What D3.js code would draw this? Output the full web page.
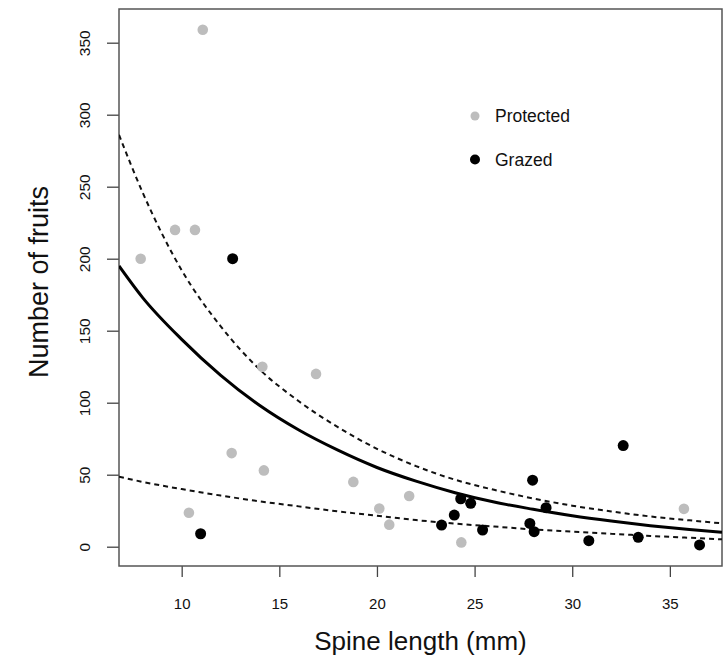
<!DOCTYPE html>
<html>
<head>
<meta charset="utf-8">
<script src="https://cdn.jsdelivr.net/npm/d3@7"></script>
<style>
  body { margin: 0; background: #fff; }
  svg text { font-family: "Liberation Sans", Arial, sans-serif; fill: #111; }
</style>
</head>
<body>
<div id="chart"></div>
<script>
// spine length (mm) and number of fruits
var protectedX = [7.9, 9.66, 10.68, 11.08, 10.37, 12.56, 14.13, 14.21, 16.88, 18.79, 20.12, 20.63, 21.65, 24.32, 35.72];
var protectedY = [200, 220, 220, 359, 23.6, 65, 125, 53, 120, 45, 26.5, 15.3, 35.2, 3, 26.3];
var grazedX = [10.97, 12.61, 23.31, 23.96, 24.29, 24.8, 25.41, 27.83, 27.97, 28.05, 28.66, 30.85, 32.61, 33.38, 36.52];
var grazedY = [9, 200, 15, 22, 33.3, 30.1, 11.6, 16.2, 46.2, 10.4, 27.1, 4.2, 70.2, 6.5, 1.2];

// fitted curve and its bounds, read at these x positions
var fitX     = [6.79, 8, 10, 12, 14, 16, 18, 20, 22, 24, 26, 28, 30, 32, 34, 36, 37.67];
var fitMid   = [195, 173, 144, 119, 98, 81, 67, 55, 45.5, 37.5, 31, 26, 21.5, 17.8, 14.6, 11.9, 10];
var fitUpper = [286, 246, 192, 153, 123, 101, 83, 68, 56, 46.5, 39.5, 33.5, 28.5, 24.5, 21, 18.3, 16.2];
var fitLower = [48.6, 45, 40, 35.5, 31.5, 28, 24.5, 21.5, 18.5, 16, 14, 12, 10.5, 9, 7.5, 6.2, 5.1];

var xTicks = [10, 15, 20, 25, 30, 35];
var yTicks = [0, 50, 100, 150, 200, 250, 300, 350];
var legendLabels = ["Protected", "Grazed"];
var legendColors = ["#bdbdbd", "#000000"];

var W = 726, H = 663;
var box = {left: 119, right: 722, top: 9, bottom: 566};

var svg = d3.select("#chart").append("svg")
    .attr("width", W)
    .attr("height", H);

var x = d3.scaleLinear().domain([6.79, 37.67]).range([box.left, box.right]);
var y = d3.scaleLinear().domain([-13.4, 373.4]).range([box.bottom, box.top]);

svg.append("clipPath").attr("id", "plotclip")
  .append("rect")
    .attr("x", box.left).attr("y", box.top)
    .attr("width", box.right - box.left).attr("height", box.bottom - box.top);

// axes
var xAxis = svg.append("g")
    .attr("transform", "translate(0," + box.bottom + ")")
    .call(d3.axisBottom(x).tickValues(xTicks).tickSize(11).tickPadding(0));
xAxis.select(".domain").remove();
xAxis.selectAll("line").attr("stroke", "#444").attr("stroke-width", 1.3);
xAxis.selectAll("text")
    .attr("y", 38)
    .attr("dy", "0.35em")
    .style("font-size", "15px")
    .attr("fill", "#111");

var yAxis = svg.append("g")
    .attr("transform", "translate(" + box.left + ",0)")
    .call(d3.axisLeft(y).tickValues(yTicks).tickSize(12));
yAxis.select(".domain").remove();
yAxis.selectAll("line").attr("stroke", "#444").attr("stroke-width", 1.3);
yAxis.selectAll("text")
    .attr("x", 0)
    .attr("dy", "0.35em")
    .attr("transform", "translate(-34,0) rotate(-90)")
    .style("text-anchor", "middle")
    .style("font-size", "15.5px")
    .attr("fill", "#111");

svg.append("rect")
    .attr("x", box.left).attr("y", box.top)
    .attr("width", box.right - box.left).attr("height", box.bottom - box.top)
    .attr("fill", "none")
    .attr("stroke", "#555")
    .attr("stroke-width", 1.5);

// axis titles
svg.append("text")
    .attr("x", (box.left + box.right) / 2)
    .attr("y", 650)
    .style("text-anchor", "middle")
    .style("font-size", "26px")
    .text("Spine length (mm)");

svg.append("text")
    .attr("transform", "translate(48," + 282 + ") rotate(-90)")
    .style("text-anchor", "middle")
    .style("font-size", "27px")
    .text("Number of fruits");

// fitted lines
var fitLine = function(vals) {
  return d3.line()
    .x(function(d, i) { return x(fitX[i]); })
    .y(function(d) { return y(d); })
    .curve(d3.curveMonotoneX)(vals);
};

var lines = svg.append("g").attr("clip-path", "url(#plotclip)");
lines.append("path")
    .attr("d", fitLine(fitUpper))
    .attr("fill", "none").attr("stroke", "#111")
    .attr("stroke-width", 2).attr("stroke-dasharray", "5,4");
lines.append("path")
    .attr("d", fitLine(fitLower))
    .attr("fill", "none").attr("stroke", "#111")
    .attr("stroke-width", 2).attr("stroke-dasharray", "5,4");
lines.append("path")
    .attr("d", fitLine(fitMid))
    .attr("fill", "none").attr("stroke", "#000")
    .attr("stroke-width", 3);

// points
var pts = svg.append("g");
pts.selectAll(".prot")
    .data(protectedX)
    .enter().append("circle")
    .attr("class", "prot")
    .attr("cx", function(d) { return x(d); })
    .attr("cy", function(d, i) { return y(protectedY[i]); })
    .attr("r", 5.3)
    .attr("fill", legendColors[0]);

pts.selectAll(".graz")
    .data(grazedX)
    .enter().append("circle")
    .attr("class", "graz")
    .attr("cx", function(d) { return x(d); })
    .attr("cy", function(d, i) { return y(grazedY[i]); })
    .attr("r", 5.5)
    .attr("fill", legendColors[1]);

// legend
var legend = svg.append("g").attr("transform", "translate(475,116)");
legendLabels.forEach(function(lab, i) {
  legend.append("circle")
      .attr("cx", 0).attr("cy", i * 43.5)
      .attr("r", i == 0 ? 4.5 : 5)
      .attr("fill", legendColors[i]);
  legend.append("text")
      .attr("x", 20).attr("y", i * 43.5)
      .attr("dy", "0.36em")
      .style("font-size", "17.5px")
      .text(lab);
});
</script>
</body>
</html>
